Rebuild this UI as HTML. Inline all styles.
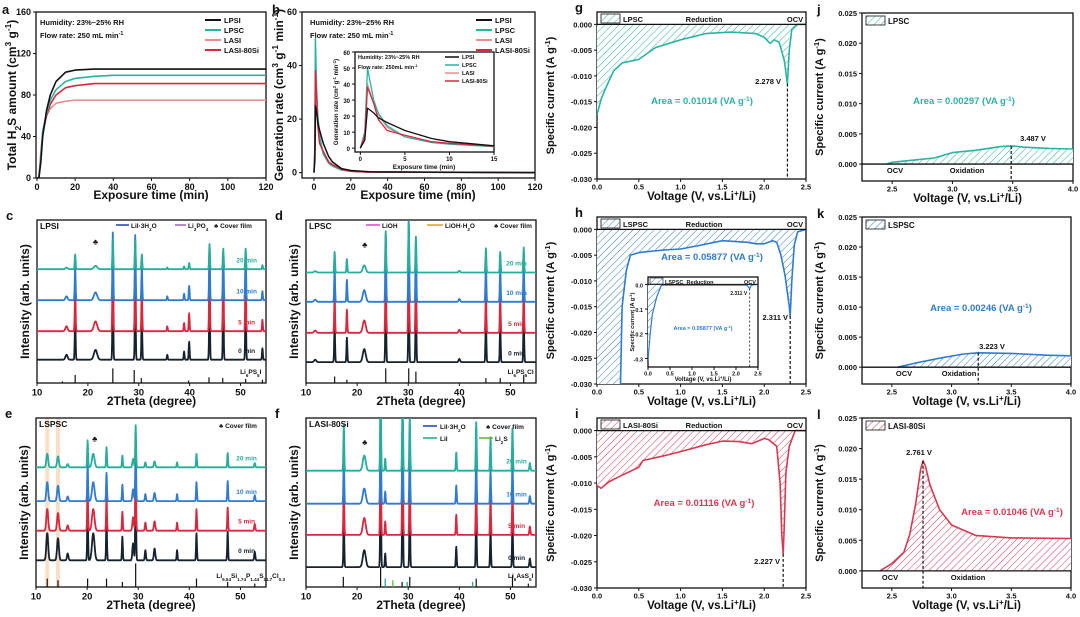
<!DOCTYPE html>
<html><head><meta charset="utf-8"><style>
html,body{margin:0;padding:0;background:#fff;}
svg{display:block;font-family:"Liberation Sans",Arial,sans-serif;font-weight:bold;}
</style></head><body>
<svg id="fig" width="1080" height="617" viewBox="0 0 1080 617" xmlns="http://www.w3.org/2000/svg">
<defs id="defs"></defs>
</svg>
<script>
// ---- panel a data ----
const aTime=[0,1,2,3,5,7,10,15,20,30,40,120];
const aLPSI=[0,0,15,40,65,80,93,102,104,105,105,105];
const aLPSC=[0,0,20,45,62,75,85,93,96,98,99,99];
const aLASI=[0,0,25,45,60,67,72,74,75,75,75,75];
const aLASI80=[0,0,20,42,60,71,80,87,89,91,91,91];
// ---- panel b data ----
const bTime=[0,0.5,0.8,1.5,2,3,5,8,10,15,20,30,120];
const bLPSI=[0,5,25,22,19,16,11,6,4,1.5,0.8,0.3,0];
const bLPSC=[0,10,50,30,22,14,7,3.5,2.5,1,0.5,0.2,0];
const bLASI=[0,8,40,28,21,13,7,3.5,2.5,1,0.5,0.2,0];
const bLASI80=[0,8,38,28,18,11,8,4,3,1.2,0.5,0.2,0];
// ---- XRD data ----
const cPeaks=[15.8,17.5,21.5,24.9,29.3,30.6,35.6,38.9,39.9,43.9,46.6,51.0,54.3];
const cHeights=[0.3,2.6,0.6,5.2,5.0,2.6,0.3,0.5,1.1,4.3,3.6,3.6,0.7];
const cWidths=[0.3,0.12,0.45,0.12,0.12,0.12,0.12,0.12,0.12,0.12,0.12,0.12,0.12];
const cScales=[1,1,0.8,0.35];
const cBases=[1.35,3.1,5.0,6.9];
const cRefX=[15,17.5,24.9,29.1,30.5,39.8,43.8,46.5,51,54.3];
const cRefH=[0.1,0.5,0.9,0.8,0.3,0.15,0.35,0.3,0.25,0.2];
const dPeaks=[11.8,15.6,18.0,21.4,25.6,30.1,31.5,40,45.2,48.0,52.6];
const dHeights=[0.15,2.3,1.5,0.8,4.6,5.6,4.0,0.2,2.7,2.3,2.8];
const dWidths=[0.3,0.12,0.12,0.4,0.12,0.12,0.12,0.2,0.12,0.12,0.12];
const dScales=[1,0.95,0.9,0.55];
const dBases=[1.2,3.0,4.9,6.7];
const dRefX=[15.6,18,25.6,30.1,31.5,45.2,48,52.6];
const dRefH=[0.4,0.2,0.9,0.9,0.7,0.3,0.3,0.5];
const ePeaks=[12.2,14.3,16.2,20.1,21.2,23.8,26.9,29.0,29.5,31.4,33.2,37.6,41.4,47.5,52.8];
const eHeights=[1.6,1.3,0.4,3.2,1.6,2.4,1.4,1.0,5.0,0.6,0.7,0.6,1.6,1.7,0.5];
const eWidths=[0.25,0.25,0.2,0.12,0.35,0.12,0.12,0.2,0.12,0.15,0.2,0.12,0.12,0.12,0.15];
const eScales=[1,0.8,0.7,0.5];
const eBases=[1.5,3.25,5.0,7.0];
const eRefX=[12.2,14.3,20.1,23.8,26.9,29.5,41.4,47.5,52.8];
const eRefH=[0.5,0.4,0.5,0.5,0.3,1.4,0.5,0.3,0.2];
const fPeaks=[17.4,21.4,24.6,25.5,28.9,30.3,39.4,43.3,46.1,50.4,53.8];
const fHeights=[3.0,1.0,6.5,0.8,5.6,3.6,1.2,3.2,2.2,2.8,0.5];
const fWidths=[0.12,0.4,0.12,0.12,0.12,0.12,0.12,0.12,0.12,0.12,0.15];
const fScales=[1,1,0.9,0.9];
const fBases=[1.1,3.0,4.85,6.8];
const fRefX=[17.3,24.6,25.5,27.0,28.8,29.8,30.3,42.6,43.3,50.4,53.5];
const fRefH=[0.6,1.2,0.5,0.4,0.3,0.3,0.6,0.3,0.5,0.7,0.2];
const timeLabels=['0 min','5 min','10 min','20 min'];
// ---- CV data ----
const gV=[0,0.05,0.1,0.2,0.3,0.5,0.7,1.0,1.3,1.6,1.9,2.0,2.07,2.12,2.18,2.24,2.278,2.3,2.33,2.4,2.5];
const gI=[-0.0175,-0.0145,-0.0125,-0.009,-0.0075,-0.0068,-0.0045,-0.003,-0.0018,-0.0015,-0.0018,-0.0025,-0.0037,-0.003,-0.0035,-0.007,-0.0115,-0.005,-0.001,0,0];
const hV=[0,0.28,0.3,0.35,0.4,0.5,0.8,1.0,1.2,1.5,1.8,1.9,2.0,2.1,2.15,2.2,2.25,2.3,2.311,2.33,2.36,2.4,2.5];
const hI=[-0.031,-0.031,-0.015,-0.008,-0.005,-0.0045,-0.004,-0.0038,-0.0032,-0.0022,-0.0025,-0.0028,-0.0028,-0.0022,-0.0025,-0.005,-0.009,-0.015,-0.0168,-0.01,-0.003,-0.0005,0];
const hInV=[0,0.05,0.1,0.2,0.3,0.35,2.25,2.311,2.35,2.5];
const hInI=[-0.31,-0.2,-0.12,-0.05,-0.005,-0.003,-0.003,-0.017,-0.003,0];
const iV=[0,0.05,0.1,0.15,0.3,0.5,0.55,0.8,1.0,1.3,1.5,1.7,1.85,2.0,2.05,2.15,2.19,2.21,2.227,2.24,2.26,2.3,2.37,2.5];
const iI=[-0.0105,-0.011,-0.0103,-0.0097,-0.0085,-0.007,-0.0057,-0.0048,-0.004,-0.0027,-0.002,-0.0021,-0.0025,-0.0015,-0.0017,-0.003,-0.01,-0.02,-0.0235,-0.018,-0.008,-0.003,0,0];
const jV=[2.45,2.5,2.7,2.85,3.0,3.2,3.4,3.487,3.6,3.8,4.0];
const jI=[0,0.0003,0.0007,0.001,0.0019,0.0023,0.0029,0.003,0.0028,0.0026,0.0025];
const kV=[2.55,2.7,2.9,3.1,3.223,3.5,3.8,4.0];
const kI=[0,0.0007,0.0015,0.0022,0.0024,0.0023,0.002,0.0019];
const lV=[2.4,2.5,2.6,2.65,2.7,2.74,2.761,2.78,2.82,2.9,3.0,3.2,3.5,4.0];
const lI=[0,0.0012,0.003,0.006,0.011,0.0165,0.018,0.0172,0.014,0.01,0.0075,0.0058,0.0054,0.0053];

const NS='http://www.w3.org/2000/svg';
const svg=document.getElementById('fig');
const defs=document.getElementById('defs');
function mk(tag,attrs,name,parent){
  const e=document.createElementNS(NS,tag);
  for(const k in attrs) e.setAttribute(k,attrs[k]);
  
  
  (parent||svg).appendChild(e);
  return e;
}
const SUB=s=>'<tspan baseline-shift="sub" font-size="70%">'+s+'</tspan>';
const SUP=s=>'<tspan baseline-shift="super" font-size="70%">'+s+'</tspan>';
function txt(x,y,html,size,name,opts){
  opts=opts||{};
  const a={x:x,y:y,'font-size':size,fill:opts.fill||'#111'};
  if(opts.anchor) a['text-anchor']=opts.anchor;
  if(opts.rot!==undefined) a.transform='rotate('+opts.rot+' '+x+' '+y+')';
  if(opts.weight) a['font-weight']=opts.weight;
  const t=mk('text',a,name,opts.parent);
  t.innerHTML=html;
  return t;
}
function scale(box,xr,yr){
  return {x:v=>box[0]+(v-xr[0])/(xr[1]-xr[0])*(box[2]-box[0]),
          y:v=>box[3]-(v-yr[0])/(yr[1]-yr[0])*(box[3]-box[1])};
}
let clipN=0;
function clip(box){
  const id='cl'+(clipN++);
  const c=mk('clipPath',{id:id},'clip-region',defs);
  mk('rect',{x:box[0],y:box[1],width:box[2]-box[0],height:box[3]-box[1]},'clip-rect',c);
  return 'url(#'+id+')';
}
function hatch(color){
  const id='h'+color.replace('#','');
  if(document.getElementById(id)) return 'url(#'+id+')';
  const p=mk('pattern',{id:id,width:5,height:5,patternUnits:'userSpaceOnUse',patternTransform:'rotate(45)'},'hatch-pattern',defs);
  mk('rect',{x:0,y:0,width:5,height:5,fill:'#fff'},'hatch-bg',p);
  mk('line',{x1:0,y1:0,x2:0,y2:5,stroke:color,'stroke-width':1},'hatch-line',p);
  return 'url(#'+id+')';
}
function axes(pfx,box,xr,yr,xt,yt,xfmt,yfmt,fs){
  const s=scale(box,xr,yr);
  mk('rect',{x:box[0],y:box[1],width:box[2]-box[0],height:box[3]-box[1],fill:'none',stroke:'#111','stroke-width':1.3},pfx+'-frame');
  xt.forEach(v=>{const X=s.x(v);
    mk('line',{x1:X,y1:box[3],x2:X,y2:box[3]+3,stroke:'#111','stroke-width':1},pfx+'-x-tick');
    txt(X,box[3]+fs+3,xfmt(v),fs,pfx+'-x-tick-label',{anchor:'middle'});});
  yt.forEach(v=>{const Y=s.y(v);
    mk('line',{x1:box[0]-3,y1:Y,x2:box[0],y2:Y,stroke:'#111','stroke-width':1},pfx+'-y-tick');
    txt(box[0]-5,Y+3,yfmt(v),fs,pfx+'-y-tick-label',{anchor:'end'});});
  return s;
}
function line(s,xs,ys,color,w,name,cp){
  const d=xs.map((v,i)=>(i?'L':'M')+s.x(v).toFixed(1)+','+s.y(ys[i]).toFixed(1)).join('');
  const a={d:d,fill:'none',stroke:color,'stroke-width':w,'stroke-linejoin':'round'};
  if(cp) a['clip-path']=cp;
  return mk('path',a,name);
}
function area(s,xs,ys,color,name,cp){
  let d='M'+s.x(xs[0]).toFixed(1)+','+s.y(0).toFixed(1);
  xs.forEach((v,i)=>{d+='L'+s.x(v).toFixed(1)+','+s.y(ys[i]).toFixed(1);});
  d+='L'+s.x(xs[xs.length-1]).toFixed(1)+','+s.y(0).toFixed(1)+'Z';
  const a={d:d,fill:hatch(color),stroke:'none'};
  if(cp) a['clip-path']=cp;
  return mk('path',a,name);
}
const int=v=>String(v);
const f3=v=>v.toFixed(3);
const f1=v=>v.toFixed(1);
const LPSIc='#111',LPSCc='#2ab3a3',LASIc='#ee8f8f',LASI80c='#d8283e';

// ===== panel a =====
{const box=[36,12,266,178];
const s=axes('panel-a',box,[-0.5,120],[0,160],[0,20,40,60,80,100,120],[0,40,80,120,160],int,int,9);
txt(2,14,'a',13,'panel-a-letter');
const cp=clip(box);
line(s,aTime,aLASI,LASIc,1.6,'series-lasi',cp);
line(s,aTime,aLASI80,LASI80c,1.6,'series-lasi-80si',cp);
line(s,aTime,aLPSC,LPSCc,1.6,'series-lpsc',cp);
line(s,aTime,aLPSI,LPSIc,1.6,'series-lpsi',cp);
txt(40,25,'Humidity: 23%~25% RH',7.5,'humidity-note');
txt(40,38,'Flow rate: 250 mL min'+SUP('-1'),7.5,'flow-rate-note');
[['LPSI',LPSIc],['LPSC',LPSCc],['LASI',LASIc],['LASI-80Si',LASI80c]].forEach((e,i)=>{
  const y=20+i*10;
  mk('line',{x1:205,y1:y,x2:221,y2:y,stroke:e[1],'stroke-width':2},'legend-line');
  txt(224,y+3,e[0],7.5,'legend-entry');});
txt(151,199,'Exposure time  (min)',12,'x-axis-title',{anchor:'middle'});
txt(16,95,'Total H'+SUB('2')+'S amount (cm'+SUP('3')+' g'+SUP('-1')+')',12,'y-axis-title',{anchor:'middle',rot:-90});
}
// ===== panel b =====
{const box=[302,12,535,178];
const s=axes('panel-b',box,[-6.5,120],[-2,60],[0,20,40,60,80,100,120],[0,20,40,60],int,int,9);
txt(272,14,'b',13,'panel-b-letter');
const cp=clip(box);
line(s,bTime,bLASI,LASIc,1.5,'series-lasi',cp);
line(s,bTime,bLPSC,LPSCc,1.5,'series-lpsc',cp);
line(s,bTime,bLASI80,LASI80c,1.5,'series-lasi-80si',cp);
line(s,bTime,bLPSI,LPSIc,1.5,'series-lpsi',cp);
txt(310,25,'Humidity: 23%~25% RH',7.5,'humidity-note');
txt(310,38,'Flow rate: 250 mL min'+SUP('-1'),7.5,'flow-rate-note');
[['LPSI',LPSIc],['LPSC',LPSCc],['LASI',LASIc],['LASI-80Si',LASI80c]].forEach((e,i)=>{
  const y=20+i*10;
  mk('line',{x1:476,y1:y,x2:492,y2:y,stroke:e[1],'stroke-width':2},'legend-line');
  txt(495,y+3,e[0],7.5,'legend-entry');});
txt(418,199,'Exposure time  (min)',12,'x-axis-title',{anchor:'middle'});
txt(283,95,'Generation rate (cm'+SUP('3')+' g'+SUP('-1')+' min'+SUP('-1')+')',12,'y-axis-title',{anchor:'middle',rot:-90});
// inset
const ib=[355,52,494,152];
mk('rect',{x:ib[0],y:ib[1],width:ib[2]-ib[0],height:ib[3]-ib[1],fill:'#fff'},'inset-bg');
const si=axes('panel-b-inset',ib,[-0.6,15],[-2.4,60],[0,5,10,15],[0,10,20,30,40,50,60],int,int,6);
const icp=clip(ib);
line(si,bTime,bLASI,LASIc,1.3,'inset-series-lasi',icp);
line(si,bTime,bLPSC,LPSCc,1.3,'inset-series-lpsc',icp);
line(si,bTime,bLASI80,LASI80c,1.3,'inset-series-lasi-80si',icp);
line(si,bTime,bLPSI,LPSIc,1.3,'inset-series-lpsi',icp);
txt(358,59,'Humidity: 23%~25% RH',5.5,'inset-humidity-note');
txt(358,69,'Flow rate: 250mL min'+SUP('-1'),5.5,'inset-flow-note');
[['LPSI',LPSIc],['LPSC',LPSCc],['LASI',LASIc],['LASI-80Si',LASI80c]].forEach((e,i)=>{
  const y=57+i*8;
  mk('line',{x1:445,y1:y,x2:459,y2:y,stroke:e[1],'stroke-width':1.5},'inset-legend-line');
  txt(462,y+2,e[0],5.5,'inset-legend-entry');});
txt(424,169,'Exposure time  (min)',6.5,'inset-x-axis-title',{anchor:'middle'});
txt(338,102,'Generation rate (cm'+SUP('3')+' g'+SUP('-1')+' min'+SUP('-1')+')',6,'inset-y-axis-title',{anchor:'middle',rot:-90});
}
// ===== XRD panels =====
const tCols=['#16222e','#d8283e','#2e7bd0','#26ad9c'];
function xrd(pfx,letter,box,peaks,hs,ws,scales,bases,refX,refH,refCols,title,refLabel){
  const s=axes(pfx,box,[10,55],[0,10],[10,20,30,40,50],[],int,int,9.5);
  txt(box[0]-31,box[1],letter,13,pfx+'-letter');
  const cp=clip(box);
  const grid=[];for(let t=10;t<=55.001;t+=0.05) grid.push(+t.toFixed(2));
  bases.forEach((b,ci)=>{
    const ys=grid.map(t=>{let y=b+0.08;peaks.forEach((p,k)=>{y+=hs[k]*scales[ci]*Math.exp(-Math.pow((t-p)/ws[k],2));});return y;});
    line(s,grid,ys,tCols[ci],1.8,pfx+'-pattern-'+timeLabels[ci].replace(' ',''),cp);
    txt(s.x(51.2),s.y(b+0.5),timeLabels[ci],6.5,pfx+'-time-label',{fill:tCols[ci],anchor:'middle'});
  });
  refX.forEach((x,k)=>{
    mk('line',{x1:s.x(x),y1:box[3],x2:s.x(x),y2:s.y(refH[k]),stroke:refCols?refCols[k]:'#111','stroke-width':1.2},pfx+'-reference-stick');
  });
  txt(s.x(52),box[3]-9,refLabel,6.5,pfx+'-reference-label',{anchor:'middle'});
  txt(s.x(21.5),s.y(bases[3]+1.6),'♣',8,pfx+'-cover-film-marker',{anchor:'middle'});
  txt(box[0]+3,box[1]+9,title,8.5,pfx+'-sample-title');
  txt((box[0]+box[2])/2,box[3]+22,'2Theta (degree)',12,pfx+'-x-axis-title',{anchor:'middle'});
  txt(box[0]-8,(box[1]+box[3])/2,'Intensity (arb. units)',12,pfx+'-y-axis-title',{anchor:'middle',rot:-90});
  return s;
}
xrd('panel-c','c',[37,220,266,383],cPeaks,cHeights,cWidths,cScales,cBases,cRefX,cRefH,null,'LPSI','Li'+SUB('6')+'PS'+SUB('5')+'I');
mk('line',{x1:116,y1:225,x2:129,y2:225,stroke:'#1b3fb0','stroke-width':1.5},'legend-line');
txt(131,228,'LiI·3H'+SUB('2')+'O',6.5,'legend-entry');
mk('line',{x1:175,y1:225,x2:186,y2:225,stroke:'#9a5fb5','stroke-width':1.5},'legend-line');
txt(188,228,'Li'+SUB('3')+'PO'+SUB('4'),6.5,'legend-entry');
txt(214,228,'♣ Cover film',6.5,'legend-entry');
xrd('panel-d','d',[306,220,536,383],dPeaks,dHeights,dWidths,dScales,dBases,dRefX,dRefH,null,'LPSC','Li'+SUB('6')+'PS'+SUB('5')+'Cl');
mk('line',{x1:366,y1:225,x2:380,y2:225,stroke:'#e040c8','stroke-width':1.5},'legend-line');
txt(382,228,'LiOH',6.5,'legend-entry');
mk('line',{x1:427,y1:225,x2:443,y2:225,stroke:'#d9a020','stroke-width':1.5},'legend-line');
txt(445,228,'LiOH·H'+SUB('2')+'O',6.5,'legend-entry');
txt(494,228,'♣ Cover film',6.5,'legend-entry');
{const s=scale([36,418,266,587],[10,55],[0,10]);
[[11.8,12.6],[13.9,14.7]].forEach(r=>mk('rect',{x:s.x(r[0]),y:418,width:s.x(r[1])-s.x(r[0]),height:169,fill:'#f8d2b0',opacity:0.7},'amorphous-band'));}
xrd('panel-e','e',[36,418,266,587],ePeaks,eHeights,eWidths,eScales,eBases,eRefX,eRefH,null,'LSPSC','Li'+SUB('9.54')+'Si'+SUB('1.74')+'P'+SUB('1.44')+'S'+SUB('11.7')+'Cl'+SUB('0.3'));
txt(219,428,'♣ Cover film',6.5,'legend-entry');
xrd('panel-f','f',[306,418,536,587],fPeaks,fHeights,fWidths,fScales,fBases,fRefX,fRefH,
  ['#111','#111','#1aa58a','#5ab030','#111','#1aa58a','#111','#1aa58a','#111','#111','#111'],'LASI-80Si','Li'+SUB('6')+'AsS'+SUB('5')+'I');
mk('line',{x1:423,y1:426,x2:437,y2:426,stroke:'#1b3fb0','stroke-width':1.5},'legend-line');
txt(440,429,'LiI·3H'+SUB('2')+'O',6.5,'legend-entry');
txt(486,429,'♣ Cover film',6.5,'legend-entry');
mk('line',{x1:423,y1:438,x2:437,y2:438,stroke:'#1aa58a','stroke-width':1.5},'legend-line');
txt(440,441,'LiI',6.5,'legend-entry');
mk('line',{x1:479,y1:438,x2:493,y2:438,stroke:'#5ab030','stroke-width':1.5},'legend-line');
txt(495,441,'Li'+SUB('2')+'S',6.5,'legend-entry');

// ===== CV panels =====
const yTicksRed=[-0.03,-0.025,-0.02,-0.015,-0.01,-0.005,0];
const yTicksOx=[0,0.005,0.01,0.015,0.02,0.025];
function red(pfx,letter,box,V,I,color,name,peakV,peakI,areaTxt,areaXY,vlabXY){
  const s=axes(pfx,box,[0,2.5],[-0.03,0.0024],[0,0.5,1,1.5,2,2.5],yTicksRed,f1,f3,7.5);
  txt(box[0]-22,box[1],letter,13,pfx+'-letter');
  const cp=clip(box);
  area(s,V,I,color,pfx+'-hatched-area',cp);
  line(s,V,I,color,1.6,pfx+'-current-curve',cp);
  mk('line',{x1:box[0],y1:s.y(0),x2:box[2],y2:s.y(0),stroke:'#111','stroke-width':1.3},pfx+'-zero-line');
  mk('line',{x1:s.x(peakV),y1:s.y(peakI),x2:s.x(peakV),y2:box[3],stroke:'#111','stroke-width':1.2,'stroke-dasharray':'3,2'},pfx+'-peak-dashed-line');
  mk('rect',{x:box[0]+4,y:box[1]+2,width:19,height:9,fill:hatch(color),stroke:'#111','stroke-width':0.8},pfx+'-legend-swatch');
  txt(box[0]+26,box[1]+10,name,7.5,pfx+'-legend-label');
  txt(box[0]+107,box[1]+10,'Reduction',7.5,pfx+'-reduction-label',{anchor:'middle'});
  txt(box[2]-11,box[1]+10,'OCV',7.5,pfx+'-ocv-label',{anchor:'middle'});
  txt(areaXY[0],areaXY[1],'Area = '+areaTxt+' (VA g'+SUP('-1')+')',9.5,pfx+'-area-label',{fill:color,anchor:'middle'});
  txt(vlabXY[0],vlabXY[1],peakV.toFixed(3)+' V',7.5,pfx+'-peak-voltage-label',{anchor:'end'});
  txt((box[0]+box[2])/2,box[3]+21,'Voltage (V, vs.Li'+SUP('+')+'/Li)',11.5,pfx+'-x-axis-title',{anchor:'middle'});
  txt(box[0]-43,(box[1]+box[3])/2,'Specific current (A g'+SUP('-1')+')',11,pfx+'-y-axis-title',{anchor:'middle',rot:-90});
  return s;
}
function ox(pfx,letter,box,V,I,color,name,peakV,peakI,areaTxt,areaXY,vlabXY,ocvX,oxX){
  const s=axes(pfx,box,[2.25,4.0],[-0.0028,0.025],[2.5,3.0,3.5,4.0],yTicksOx,f1,f3,7.5);
  txt(box[0]-45,box[1]+1,letter,13,pfx+'-letter');
  const cp=clip(box);
  area(s,V,I,color,pfx+'-hatched-area',cp);
  line(s,V,I,color,1.6,pfx+'-current-curve',cp);
  mk('line',{x1:box[0],y1:s.y(0),x2:box[2],y2:s.y(0),stroke:'#111','stroke-width':1.3},pfx+'-zero-line');
  mk('line',{x1:s.x(peakV),y1:s.y(peakI),x2:s.x(peakV),y2:box[3],stroke:'#111','stroke-width':1.2,'stroke-dasharray':'3,2'},pfx+'-peak-dashed-line');
  mk('rect',{x:box[0]+4,y:box[1]+3,width:19,height:9,fill:hatch(color),stroke:'#111','stroke-width':0.8},pfx+'-legend-swatch');
  txt(box[0]+26,box[1]+11,name,8,pfx+'-legend-label');
  txt(ocvX,box[3]-8,'OCV',7.5,pfx+'-ocv-label',{anchor:'middle'});
  txt(oxX,box[3]-8,'Oxidation',7.5,pfx+'-oxidation-label',{anchor:'middle'});
  txt(areaXY[0],areaXY[1],'Area = '+areaTxt+' (VA g'+SUP('-1')+')',9.5,pfx+'-area-label',{fill:color,anchor:'middle'});
  txt(vlabXY[0],vlabXY[1],peakV.toFixed(3)+' V',7.5,pfx+'-peak-voltage-label',{anchor:'middle'});
  txt((box[0]+box[2])/2,box[3]+21,'Voltage (V, vs.Li'+SUP('+')+'/Li)',11.5,pfx+'-x-axis-title',{anchor:'middle'});
  txt(box[0]-39,(box[1]+box[3])/2,'Specific current (A g'+SUP('-1')+')',11,pfx+'-y-axis-title',{anchor:'middle',rot:-90});
  return s;
}
const teal='#2ab3a3',blue='#2e7bd0',rose='#d63a52';
red('panel-g','g',[597,12,806,179],gV,gI,teal,'LPSC',2.278,-0.0115,'0.01014',[702,104],[781,84]);
ox('panel-j','j',[862,13,1073,181],jV,jI,teal,'LPSC',3.487,0.003,'0.00297',[964,104],[1033,141],895,967);
red('panel-h','h',[597,217,806,384],hV,hI,blue,'LSPSC',2.311,-0.0168,'0.05877',[712,260],[788,320]);
// inset of h
{const ib=[648,277,758,367];
mk('rect',{x:ib[0],y:ib[1],width:ib[2]-ib[0],height:ib[3]-ib[1],fill:'#fff'},'inset-bg');
const si=axes('panel-h-inset',ib,[0,2.5],[-0.335,0.03],[0,0.5,1,1.5,2,2.5],[-0.3,-0.2,-0.1,0],f1,f1,5.5);
const cp=clip(ib);
area(si,hInV,hInI,blue,'inset-hatched-area',cp);
line(si,hInV,hInI,blue,1.2,'inset-current-curve',cp);
mk('line',{x1:ib[0],y1:si.y(0),x2:ib[2],y2:si.y(0),stroke:'#111','stroke-width':1},'inset-zero-line');
mk('line',{x1:si.x(2.311),y1:si.y(-0.017),x2:si.x(2.311),y2:ib[3],stroke:'#111','stroke-width':0.8,'stroke-dasharray':'2,2'},'inset-peak-dashed-line');
mk('rect',{x:ib[0]+2,y:ib[1]+1,width:13,height:6,fill:hatch(blue),stroke:'#111','stroke-width':0.6},'inset-legend-swatch');
txt(ib[0]+17,ib[1]+7,'LSPSC',5.5,'inset-legend-label');
txt(ib[0]+52,ib[1]+7,'Reduction',5.5,'inset-reduction-label',{anchor:'middle'});
txt(ib[2]-8,ib[1]+7,'OCV',5.5,'inset-ocv-label',{anchor:'middle'});
txt(si.x(2.3)-2,ib[1]+18,'2.311 V',5,'inset-peak-label',{anchor:'end'});
txt(703,330,'Area = 0.05877 (VA g'+SUP('-1')+')',5.5,'inset-area-label',{fill:blue,anchor:'middle'});
txt(703,381,'Voltage (V, vs.Li'+SUP('+')+'/Li)',6,'inset-x-axis-title',{anchor:'middle'});
txt(634,322,'Specific current (A g'+SUP('-1')+')',5.5,'inset-y-axis-title',{anchor:'middle',rot:-90});}
ox('panel-k','k',[862,217,1071,384],kV,kI,blue,'LSPSC',3.223,0.0024,'0.00246',[981,311],[992,349],904,959);
red('panel-i','i',[597,418,806,588],iV,iI,rose,'LASI-80Si',2.227,-0.0235,'0.01116',[704,506],[780,564]);
ox('panel-l','l',[862,418,1071,588],lV,lI,rose,'LASI-80Si',2.761,0.018,'0.01046',[1012,515],[919,455],890,968);
</script>
</body></html>
